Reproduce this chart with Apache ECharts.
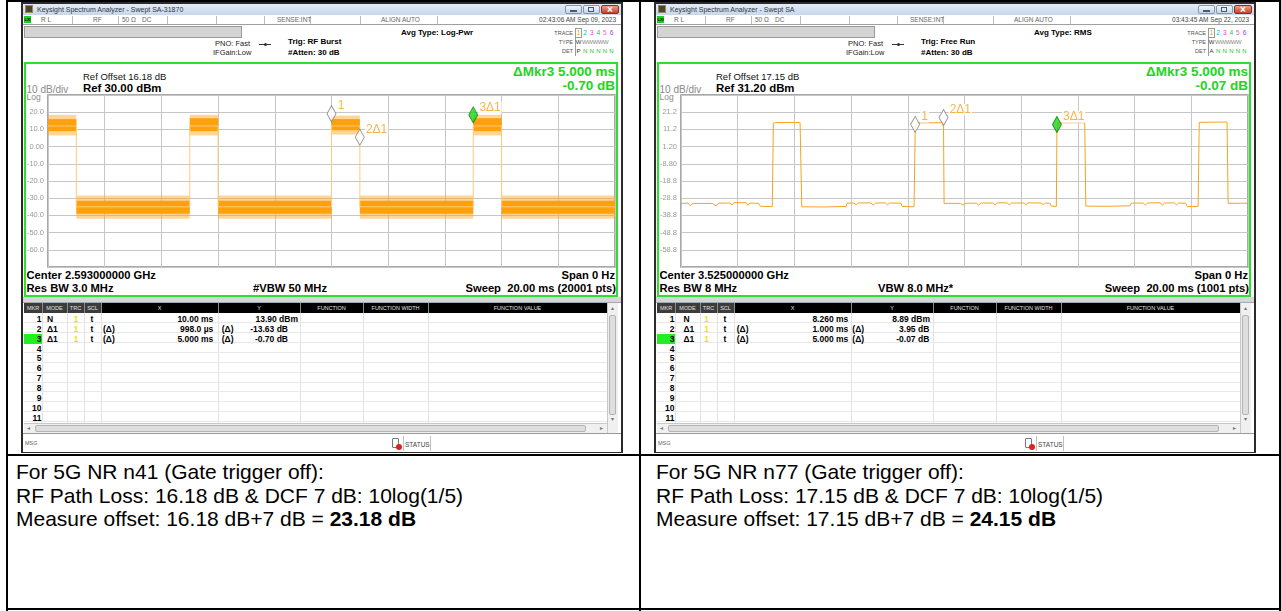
<!DOCTYPE html>
<html>
<head>
<meta charset="utf-8">
<script src="https://cdn.jsdelivr.net/npm/echarts@6/dist/echarts.min.js"></script>
<style>
body{margin:0;background:#fff}
#page{position:relative;width:1281px;height:611px;overflow:hidden;background:#fff;font-family:Arial,"Liberation Sans",sans-serif;color:#000}
.a{position:absolute;white-space:pre;box-sizing:border-box}
</style>
</head>
<body>
<div id="page"></div>
<script>
// ---- values ----
// left: n41, 20 ms sweep, peak detector -> noisy trace drawn as bands (ms, dBm)
var leftSegStart = [0, 1, 5, 6, 10, 11, 15, 16];
var leftSegEnd   = [1, 5, 6, 10, 11, 15, 16, 20];
var leftOuterLo  = [6.5, -42, 6.5, -42, 7, -42, 6.5, -42];
var leftOuterHi  = [18.5, -28.5, 18.5, -28.5, 18, -28.5, 18.5, -28.5];
var leftInnerLo  = [9, -39, 9, -39, 9.5, -39, 9, -39];
var leftInnerHi  = [16, -31.5, 16.5, -31.5, 16, -31.5, 16.5, -31.5];
var leftEdgeT = [0, 1, 1, 5, 5, 6, 6, 10, 10, 11, 11, 15, 15, 16, 16, 20];
var leftEdgeV = [12, 12, -35, -35, 12, 12, -35, -35, 12, 12, -35, -35, 12, 12, -35, -35];
var leftMkrT = [10.00, 10.998, 15.00];
var leftMkrV = [13.90, 0.27, 13.20];
var leftMkrName = ['1', '2\u03941', '3\u03941'];

// right: n77, 20 ms sweep, RMS average
var rightT = [0, 0.25, 0.33, 0.42, 0.95, 1.02, 1.10, 1.24, 1.32, 1.72, 1.80, 1.88, 2.30, 2.36, 2.44, 2.74, 2.80, 3.22,
  3.26, 3.35, 4.20, 4.26, 5.00, 5.82, 5.86, 6.10, 6.18, 6.26, 6.70, 6.78, 6.86, 7.20, 7.28, 7.36, 7.76, 7.80, 8.22,
  8.26, 8.30, 9.22, 9.26, 9.28, 9.85, 9.95, 10.05, 10.42, 10.50, 10.58, 11.00, 11.08, 11.16, 11.50, 11.58, 11.66,
  12.08, 12.16, 12.24, 12.70, 12.78, 12.86, 13.02, 13.06, 13.24, 13.26, 13.30, 14.24, 14.28, 15.00, 15.84, 15.88,
  16.30, 16.38, 16.46, 16.90, 16.98, 17.06, 17.40, 17.48, 17.56, 17.80, 17.86, 18.24, 18.28, 18.35, 19.26, 19.30, 20.00];
var rightV = [-31.8, -31.7, -33.2, -31.8, -31.9, -32.8, -31.8, -33.3, -31.7, -31.6, -32.7, -31.4, -31.4, -33.0, -31.6, -31.8, -33.5, -33.7,
  14.9, 15.2, 15.2, -33.8, -33.9, -33.6, -31.7, -31.6, -32.6, -31.6, -31.5, -32.9, -31.6, -31.5, -32.7, -31.6, -31.7, -33.6, -33.8,
  8.89, 15.0, 15.1, 12.84, -31.8, -31.8, -32.8, -31.7, -31.7, -32.9, -31.6, -31.6, -32.8, -31.5, -31.5, -32.7, -31.6,
  -31.6, -32.6, -31.5, -31.6, -32.5, -31.6, -31.8, -33.4, -33.6, 8.82, 15.0, 15.1, -33.4, -33.5, -33.2, -31.7,
  -31.6, -32.8, -31.6, -31.4, -32.9, -31.6, -31.5, -32.7, -31.6, -31.7, -33.6, -33.7, 15.3, 15.6, 15.5, -31.8, -31.7];
var rightMkrT = [8.26, 9.26, 13.26];
var rightMkrV = [8.89, 12.84, 8.82];
var rightMkrName = ['1', '2\u03941', '3\u03941'];

// marker tables: MKR, MODE, TRC, SCL, X delta, X, Y delta, Y
var leftTable = [
  ['1', 'N', '1', 't', '', '10.00 ms', '', '13.90 dBm'],
  ['2', '\u03941', '1', 't', '(\u0394)', '998.0 \u00b5s', '(\u0394)', '-13.63 dB'],
  ['3', '\u03941', '1', 't', '(\u0394)', '5.000 ms', '(\u0394)', '-0.70 dB']
];
var rightTable = [
  ['1', 'N', '1', 't', '', '8.260 ms', '', '8.89 dBm'],
  ['2', '\u03941', '1', 't', '(\u0394)', '1.000 ms', '(\u0394)', '3.95 dB'],
  ['3', '\u03941', '1', 't', '(\u0394)', '5.000 ms', '(\u0394)', '-0.07 dB']
];

var page = document.getElementById('page');
function box(x, y, w, h, css) {
  var d = document.createElement('div');
  d.className = 'a';
  d.style.cssText = 'left:' + x + 'px;top:' + y + 'px;width:' + w + 'px;height:' + h + 'px;' + (css || '');
  page.appendChild(d);
  return d;
}
// y is the vertical centre of the line
function text(x, y, s, css, align) {
  var w = 420, l = x;
  if (align === 'r') l = x - w;
  if (align === 'c') l = x - w / 2;
  var d = box(l, y - 10, w, 20, 'line-height:20px;text-align:' + ({r: 'right', c: 'center'}[align] || 'left') + ';' + (css || ''));
  d.innerHTML = s;
  return d;
}

function drawPanel(ox, c) {
  function X(x) { return x + ox; }
  var small = 'font-size:6.5px;color:#666;';
  // window frame + title bar
  box(X(21), 2, 602, 451, 'border:2px solid #2b2b2b;background:#fff');
  box(X(23), 4, 598, 11, 'background:linear-gradient(#e4edf8,#c6d6eb)');
  box(X(25), 5, 8, 8, 'background:#4a4630;border:1px solid #9a8a50');
  text(X(37), 9.5, c.title, 'font-size:7px;color:#333');
  box(X(565), 5, 17, 9, 'background:linear-gradient(#f0f5fb,#c8d5e6);border:1px solid #8796ad;border-radius:2px');
  box(X(570), 10, 7, 2, 'background:#4a5a70');
  box(X(583), 5, 17, 9, 'background:linear-gradient(#f0f5fb,#c8d5e6);border:1px solid #8796ad;border-radius:2px');
  box(X(588), 7, 6, 5, 'border:1px solid #4a5a70');
  box(X(601), 5, 18, 9, 'background:linear-gradient(#eba08e,#c5402c);border:1px solid #8a3020;border-radius:2px');
  text(X(610), 9.5, '\u00d7', 'font-size:10px;color:#fff;font-weight:bold', 'c');
  // status row
  box(X(23), 15, 598, 10, 'border-bottom:1px solid #a0a0a0;background:#fff');
  box(X(24), 16, 7, 7, 'background:#1fcf1f');
  text(X(24.5), 19.5, 'LXI', 'font-size:4px;color:#000;font-weight:bold');
  [72, 118, 167, 216, 264, 310, 360, 437].forEach(function (s) { box(X(s), 16, 1, 8, 'background:#bdbdbd'); });
  text(X(41), 19.5, 'R L', small);
  text(X(93), 19.5, 'RF', small);
  text(X(122), 19.5, '50 \u03a9', small);
  text(X(142), 19.5, 'DC', small);
  text(X(277), 19.5, 'SENSE:INT', small);
  text(X(381), 19.5, 'ALIGN AUTO', small);
  text(X(616), 19.5, c.time, 'font-size:6.5px;color:#444', 'r');
  // settings area
  box(X(24), 26, 218, 12, 'background:#d4d4d4;border:1px solid #9a9a9a');
  text(X(215), 44, 'PNO: Fast', 'font-size:7.5px;color:#222');
  text(X(213), 53, 'IFGain:Low', 'font-size:7.5px;color:#222');
  box(X(259), 44, 12, 1, 'background:#333');
  box(X(264), 42.5, 3, 3, 'background:#333;border-radius:50%');
  text(X(288), 42, c.trig, 'font-size:8px;font-weight:bold');
  text(X(288), 53, '#Atten: 30 dB', 'font-size:8px;font-weight:bold');
  text(X(401), 33, c.avg, 'font-size:8px;font-weight:bold');
  // trace block
  var tcol = ['#f0a000', '#00b4f0', '#f030f0', '#20c050', '#ff5ab4', '#9a40ff'];
  text(X(573), 33, 'TRACE', 'font-size:5.5px;color:#555', 'r');
  text(X(573), 42, 'TYPE', 'font-size:5.5px;color:#555', 'r');
  text(X(573), 51, 'DET', 'font-size:5.5px;color:#555', 'r');
  box(X(575), 28, 7, 10, 'border:1px solid #9a9a9a');
  box(X(575), 38, 1, 18, 'background:#9a9a9a');
  for (var i = 0; i < 6; i++) {
    text(X(578.5 + i * 6.6), 33, String(i + 1), 'font-size:6.5px;color:' + tcol[i], 'c');
    if (i > 0) text(X(578.5 + i * 6.6), 51, 'N', 'font-size:6px;color:#22c022', 'c');
  }
  text(X(578.5), 42, 'W', 'font-size:6px;color:#333', 'c');
  text(X(582), 42, 'WWWWW', 'font-size:6px;color:#888;letter-spacing:-0.4px');
  text(X(578.5), 51, c.det, 'font-size:6px;color:#333', 'c');
  // green measurement frame
  box(X(24), 62, 594, 235, 'border:2px solid #2ee02e');
  text(X(83), 77, c.refOffset, 'font-size:9.5px;color:#111');
  text(X(83), 88, c.ref, 'font-size:11.4px;font-weight:bold');
  text(X(26.5), 89.5, '10 dB/div', 'font-size:10px;color:#8a8a8a');
  text(X(26.5), 97, 'Log', 'font-size:8.5px;color:#8a8a8a');
  text(X(615), 72, c.mkrT, 'font-size:13.5px;font-weight:bold;color:#22d422', 'r');
  text(X(615), 86, c.mkrV, 'font-size:13.5px;font-weight:bold;color:#22d422', 'r');
  text(X(26.5), 275, c.center, 'font-size:11.2px;font-weight:bold');
  text(X(26.5), 288, c.rbw, 'font-size:11.2px;font-weight:bold');
  text(X(c.vbwX), 288, c.vbw, 'font-size:11.2px;font-weight:bold');
  text(X(615), 275, 'Span 0 Hz', 'font-size:11.2px;font-weight:bold', 'r');
  text(X(616), 288, c.sweep, 'font-size:11.2px;font-weight:bold', 'r');
  // marker table
  box(X(23), 297, 598, 6, 'background:#d6d6d6;border-bottom:1px solid #a8a8a8');
  box(X(24), 303, 583, 10, 'background:#000');
  box(X(24), 303, 77, 10, 'background:#3c3c3c');
  var colX = [42, 67, 84, 101, 218, 300, 363, 428];
  var heads = [['MKR', 33], ['MODE', 54.5], ['TRC', 75.5], ['SCL', 92.5], ['X', 159.5], ['Y', 259], ['FUNCTION', 331.5], ['FUNCTION WIDTH', 395.5], ['FUNCTION VALUE', 517.5]];
  heads.forEach(function (h) { text(X(h[1]), 308, h[0], 'font-size:5.5px;color:#e0e0e0', 'c'); });
  colX.forEach(function (s) {
    box(X(s), 303, 1, 10, 'background:#8a8a8a');
    box(X(s), 313, 1, 110, 'background:#e2e2e2');
  });
  for (var r = 1; r <= 11; r++) box(X(24), 313 + r * 9.87 - 0.5, 583, 1, 'background:#e8e8e8');
  box(X(24), 334, 18, 9.5, 'background:#22ee22');
  var f = 'font-size:8.5px;font-weight:bold;';
  for (r = 0; r < 11; r++) text(X(41.5), 319 + r * 9.87, String(r + 1), f, 'r');
  c.table.forEach(function (row, k) {
    var y = 319 + k * 9.87, p = c.pos;
    text(X(p.mode), y, row[1], f);
    text(X(p.trc), y, row[2], f + 'color:#f2e200', 'c');
    text(X(92), y, row[3], f, 'c');
    text(X(p.xd), y, row[4], f);
    text(X(p.xr), y, row[5], f, 'r');
    text(X(p.yd), y, row[6], f);
    text(X(p.yr[k]), y, row[7], f, 'r');
  });
  // scrollbars
  box(X(607), 303, 11, 130, 'background:#f0f0f0;border-left:1px solid #c8c8c8');
  box(X(609), 315, 7, 100, 'background:#dedede;border:1px solid #b4b4b4;border-radius:2px');
  text(X(612.5), 307.5, '\u25b4', 'font-size:6px;color:#777', 'c');
  text(X(612.5), 419, '\u25be', 'font-size:6px;color:#777', 'c');
  box(X(24), 423, 583, 10, 'background:#f0f0f0;border-top:1px solid #c8c8c8');
  box(X(35), 425, 551, 7, 'background:#dedede;border:1px solid #b4b4b4;border-radius:2px');
  text(X(28), 428, '\u25c2', 'font-size:6px;color:#777', 'c');
  text(X(601), 428, '\u25b8', 'font-size:6px;color:#777', 'c');
  // message / status line
  box(X(23), 433, 598, 19, 'background:#fff;border-top:1px solid #9a9a9a');
  text(X(25), 443, 'MSG', 'font-size:5.5px;color:#666');
  box(X(392), 438, 7, 10, 'border:1px solid #777;border-radius:1px');
  box(X(396), 444, 6, 6, 'background:#e02020;border-radius:50%');
  box(X(403), 436, 1, 15, 'background:#c0c0c0');
  box(X(430), 436, 1, 15, 'background:#c0c0c0');
  text(X(405), 445, 'STATUS', 'font-size:6.5px;color:#444');
}

drawPanel(0, {
  title: 'Keysight Spectrum Analyzer - Swept SA-31870', time: '02:43:06 AM Sep 09, 2023',
  trig: 'Trig: RF Burst', avg: 'Avg Type: Log-Pwr', det: 'P',
  refOffset: 'Ref Offset 16.18 dB', ref: 'Ref 30.00 dBm', mkrT: '\u0394Mkr3 5.000 ms', mkrV: '-0.70 dB',
  center: 'Center 2.593000000 GHz', rbw: 'Res BW 3.0 MHz', vbw: '#VBW 50 MHz', vbwX: 253,
  sweep: 'Sweep  20.00 ms (20001 pts)', table: leftTable,
  pos: {mode: 47, trc: 76, xd: 103, xr: 213.3, yd: 221.7, yr: [298, 288, 288]}
});
drawPanel(633, {
  title: 'Keysight Spectrum Analyzer - Swept SA', time: '03:43:45 AM Sep 22, 2023',
  trig: 'Trig: Free Run', avg: 'Avg Type: RMS', det: 'A',
  refOffset: 'Ref Offset 17.15 dB', ref: 'Ref 31.20 dBm', mkrT: '\u0394Mkr3 5.000 ms', mkrV: '-0.07 dB',
  center: 'Center 3.525000000 GHz', rbw: 'Res BW 8 MHz', vbw: 'VBW 8.0 MHz*', vbwX: 245,
  sweep: 'Sweep  20.00 ms (1001 pts)', table: rightTable,
  pos: {mode: 50.5, trc: 73.7, xd: 103.7, xr: 215.3, yd: 219.3, yr: [297, 296.3, 296.3]}
});

// document table lines
box(6, 0, 1275, 2, 'background:#000');
box(6, 0, 2, 611, 'background:#000');
box(639, 0, 2, 611, 'background:#000');
box(1279, 0, 2, 611, 'background:#000');
box(6, 454, 1275, 2, 'background:#000');
box(6, 608, 1275, 2, 'background:#000');

// notes under the screenshots
var note = 'font-size:21px;color:#000';
text(16, 472, 'For 5G NR n41 (Gate trigger off):', note);
text(16, 495.5, 'RF Path Loss: 16.18 dB &amp; DCF 7 dB: 10log(1/5)', note);
text(16, 519, 'Measure offset: 16.18 dB+7 dB = <b>23.18 dB</b>', note);
text(656, 472, 'For 5G NR n77 (Gate trigger off):', note);
text(656, 495.5, 'RF Path Loss: 17.15 dB &amp; DCF 7 dB: 10log(1/5)', note);
text(656, 519, 'Measure offset: 17.15 dB+7 dB = <b>24.15 dB</b>', note);

// ---- the two traces ----
function baseOption(ref) {
  var shift = ref - 30;
  return {
    animation: false,
    grid: {left: 24, top: 33, width: 567, height: 172, show: true, borderColor: '#8c8c8c', borderWidth: 1.5,
      containLabel: false, outerBoundsMode: 'none'},
    xAxis: {type: 'value', min: 0, max: 20, interval: 2, axisLabel: {show: false}, axisTick: {show: false},
      axisLine: {show: false}, splitLine: {show: true, lineStyle: {color: '#c6c6c6', width: 1}}},
    yAxis: {type: 'value', min: -70, max: 30, interval: 10, axisTick: {show: false}, axisLine: {show: false},
      splitLine: {show: true, lineStyle: {color: '#c6c6c6', width: 1}},
      axisLabel: {color: '#9a9a9a', fontSize: 7.5, margin: 4, fontFamily: 'Arial',
        formatter: function (v) { return (v <= -70 || v >= 30) ? '' : (v + shift).toPrecision(3); }}},
    series: []
  };
}
function bandSeries(t0, t1, lo, hi, color) {
  return {
    type: 'custom', clip: true, silent: true,
    data: t0.map(function (t, i) { return [t, t1[i], lo[i], hi[i]]; }),
    encode: {x: [0, 1], y: [2, 3]},
    renderItem: function (params, api) {
      var a = api.coord([api.value(0), api.value(3)]);
      var b = api.coord([api.value(1), api.value(2)]);
      return {type: 'rect', shape: {x: a[0], y: a[1], width: b[0] - a[0], height: b[1] - a[1]}, style: {fill: color}};
    }
  };
}
function markerSeries(ts, vs, names, shift) {
  return {
    type: 'scatter', z: 5, symbol: 'diamond', symbolSize: [9, 16], symbolOffset: [0, -9],
    data: ts.map(function (t, i) {
      var active = i === ts.length - 1;
      return {
        value: [t, vs[i] - shift],
        itemStyle: active ? {color: '#18d418', borderColor: '#0b7a0b', borderWidth: 1}
                          : {color: '#fff', borderColor: '#7a7a7a', borderWidth: 1},
        label: {show: true, formatter: names[i], position: [10, -5], color: '#f2a222', fontSize: 12,
          fontFamily: 'Arial', backgroundColor: '#fff', padding: [0, 1]}
      };
    })
  };
}

function addChart(ox) {
  return box(24 + ox, 62, 594, 235, '');
}

var leftChart = echarts.init(addChart(0));
var lo = baseOption(30);
lo.series.push({type: 'line', symbol: 'none', lineStyle: {color: '#ffcb7a', width: 1},
  data: leftEdgeT.map(function (t, i) { return [t, leftEdgeV[i]]; })});
lo.series.push(bandSeries(leftSegStart, leftSegEnd, leftOuterLo, leftOuterHi, 'rgba(255,165,20,0.45)'));
lo.series.push(bandSeries(leftSegStart, leftSegEnd, leftInnerLo, leftInnerHi, '#ffa10d'));
lo.series.push(markerSeries(leftMkrT, leftMkrV, leftMkrName, 0));
leftChart.setOption(lo);

var rightChart = echarts.init(addChart(633));
var ro = baseOption(31.2);
ro.series.push({type: 'line', symbol: 'none', lineStyle: {color: '#f6a321', width: 1},
  data: rightT.map(function (t, i) { return [t, rightV[i] - 1.2]; })});
ro.series.push(markerSeries(rightMkrT, rightMkrV, rightMkrName, 1.2));
rightChart.setOption(ro);
</script>
</body>
</html>
